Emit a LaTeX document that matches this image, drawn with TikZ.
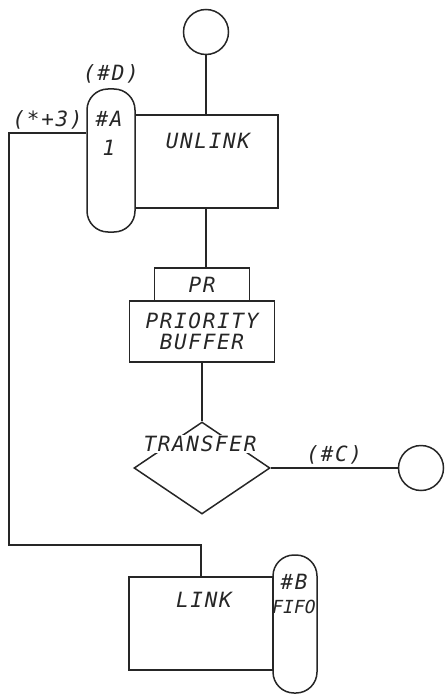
\documentclass[tikz,border=0pt]{standalone}
\usepackage{fontspec}
\newfontfamily\handfont[LetterSpace=8]{DejaVu Sans Mono}
\newfontfamily\narrowfont[LetterSpace=0]{DejaVu Sans Mono}
\usetikzlibrary{shapes.geometric, positioning}

\begin{document}
\begin{tikzpicture}[
    x=1pt, y=-1pt,
    every node/.style={font=\handfont\itshape\fontsize{21}{21}\selectfont, align=center, text=black!85},
    box/.style={rectangle, draw=black!85, line width=1.5pt, minimum width=144pt, minimum height=93pt, inner sep=0pt},
    pill/.style={rectangle, draw=black!85, fill=white, line width=1.5pt, rounded corners=21pt, inner sep=0pt},
    term/.style={circle, draw=black!85, line width=1.5pt, minimum size=45pt, inner sep=0pt},
    decision/.style={diamond, draw=black!85, line width=1.5pt, minimum width=136pt, minimum height=92pt, inner sep=0pt},
    wire/.style={draw=black!85, line width=1.5pt}
]
\useasboundingbox (0,0) rectangle (445,695);

% NODES
\node[term] (start) at (206,32) {};
\node[box] (unlink) at (206,161.5) {};
\node[pill, minimum width=48pt, minimum height=143pt, label={[label distance=1pt]above:(\#D)}] (pilla) at (111,160.5) {};
\node (unlinktxt) at (208,141) {UNLINK};
\node (pillatxt) at (109,133) {\#A\\[8pt]1};

\node[box, minimum width=95pt, minimum height=33pt] (pr) at (202,284.5) {PR};
\node[box, minimum width=145pt, minimum height=61pt] (buffer) at (202,331.5) {PRIORITY\\BUFFER};

\node[decision] (transfer) at (202,468) {};
\node[fill=white, inner sep=1pt] (transfertxt) at (200,444) {TRANSFER};
\node[term] (stop) at (421,468) {};

\node[box] (link) at (201,623.5) {};
\node (linktxt) at (204,600) {LINK};
\node[pill, minimum width=44pt, minimum height=138pt] (pillb) at (295,624) {};
\node (pillbtxt) at (294,594) {\#B\\[3pt]{\narrowfont\itshape\fontsize{18}{18}\selectfont FIFO}};

\coordinate (loopout) at ([yshift=27.5pt]pilla.west);
\coordinate (ret) at (9,545);

% LINES
\draw[wire] (start) -- (unlink);
\draw[wire] (unlink.south) -- (unlink.south |- pr.north);
\draw[wire] (buffer.south) -- (transfer.north);
\draw[wire] (transfer.east) -- node[above] {(\#C)} (stop.west);
\draw[wire] (loopout) -- node[above] {(*+3)} (loopout -| ret) -- (ret) -| (link.north);

\end{tikzpicture}
\end{document}
